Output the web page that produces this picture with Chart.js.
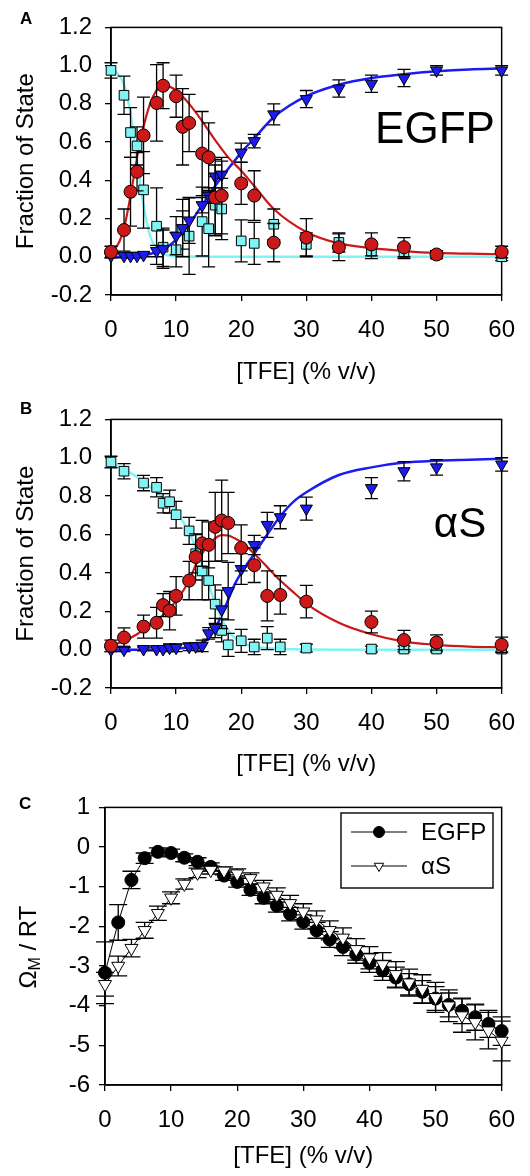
<!DOCTYPE html>
<html>
<head>
<meta charset="utf-8">
<script src="https://cdn.jsdelivr.net/npm/chart.js@4.4.1/dist/chart.umd.min.js"></script>
<style>
  html, body { margin: 0; padding: 0; background: #fff; }
  #figure { position: relative; width: 530px; height: 1176px; }
  .panel { position: absolute; left: 0; width: 530px; height: 392px; }
</style>
</head>
<body>
<div id="figure">
  <div class="panel" style="top:0"><canvas id="chart-a" width="530" height="392"></canvas></div>
  <div class="panel" style="top:392px"><canvas id="chart-b" width="530" height="392"></canvas></div>
  <div class="panel" style="top:784px"><canvas id="chart-c" width="530" height="392"></canvas></div>
</div>
<script>
// ---- Panel A: EGFP fraction of native / intermediate / unfolded state ----
const tfeA = [0, 2, 3, 4, 5, 7, 8, 10, 11, 12, 14, 15, 16, 17, 20, 22, 25, 30, 35, 40, 45, 50, 60];
const nativeA = [0.975, 0.845, 0.65, 0.58, 0.35, 0.16, 0.05, 0.037, 0.14, 0.108, 0.184, 0.147, 0.27, 0.25, 0.083, 0.07, 0.17, 0.065, 0.075, 0.03, 0.02, 0.01, 0.0];
const nativeErrA = [0.04, 0.1, 0.13, 0.1, 0.2, 0.2, 0.1, 0.09, 0.1, 0.2, 0.18, 0.2, 0.15, 0.16, 0.11, 0.11, 0.08, 0.06, 0.05, 0.04, 0.03, 0.02, 0.02];
const interA = [0.025, 0.14, 0.34, 0.445, 0.635, 0.805, 0.895, 0.84, 0.68, 0.70, 0.54, 0.52, 0.31, 0.32, 0.384, 0.32, 0.074, 0.10, 0.05, 0.065, 0.05, 0.012, 0.025];
const interErrA = [0.03, 0.11, 0.18, 0.1, 0.2, 0.2, 0.12, 0.11, 0.2, 0.15, 0.22, 0.18, 0.2, 0.2, 0.11, 0.13, 0.1, 0.1, 0.07, 0.06, 0.05, 0.02, 0.03];
const unfoldA = [0.005, 0.005, 0.005, 0.005, 0.01, 0.03, 0.04, 0.11, 0.15, 0.19, 0.27, 0.32, 0.42, 0.43, 0.545, 0.605, 0.745, 0.825, 0.88, 0.905, 0.935, 0.975, 0.975];
const unfoldErrA = [0.01, 0.01, 0.01, 0.01, 0.01, 0.03, 0.1, 0.1, 0.15, 0.12, 0.04, 0.04, 0.06, 0.07, 0.05, 0.035, 0.055, 0.045, 0.045, 0.045, 0.045, 0.025, 0.025];
// fitted three-state curves, panel A
const fitTfeA = [0, 1, 2, 3, 4, 5, 6, 7, 8, 9, 10, 12, 14, 16, 18, 20, 22, 25, 30, 35, 40, 45, 50, 55, 60];
const fitNativeA = [0.975, 0.96, 0.9, 0.75, 0.5, 0.27, 0.11, 0.04, 0.015, 0.006, 0.003, 0.001, 0, 0, 0, 0, 0, 0, 0, 0, 0, 0, 0, 0, 0];
const fitInterA = [0.03, 0.06, 0.15, 0.32, 0.52, 0.68, 0.8, 0.87, 0.895, 0.89, 0.87, 0.8, 0.71, 0.61, 0.52, 0.45, 0.37, 0.25, 0.13, 0.07, 0.045, 0.03, 0.02, 0.016, 0.013];
const fitUnfoldA = [0, 0, 0.002, 0.004, 0.006, 0.01, 0.015, 0.025, 0.04, 0.06, 0.09, 0.17, 0.27, 0.37, 0.46, 0.545, 0.62, 0.73, 0.84, 0.9, 0.935, 0.955, 0.97, 0.98, 0.985];

// ---- Panel B: alpha-synuclein ----
const tfeB = [0, 2, 5, 7, 8, 9, 10, 12, 13, 14, 15, 16, 17, 18, 20, 22, 24, 26, 30, 40, 45, 50, 60];
const nativeB = [0.978, 0.93, 0.868, 0.846, 0.763, 0.771, 0.703, 0.619, 0.5, 0.41, 0.36, 0.237, 0.10, 0.025, 0.046, 0.014, 0.06, 0.014, 0.008, 0.003, 0.003, 0.003, 0.003];
const nativeErrB = [0.03, 0.04, 0.04, 0.05, 0.05, 0.06, 0.07, 0.07, 0.1, 0.15, 0.1, 0.1, 0.06, 0.06, 0.06, 0.04, 0.06, 0.04, 0.02, 0.015, 0.015, 0.015, 0.015];
const interB = [0.02, 0.063, 0.12, 0.14, 0.232, 0.203, 0.28, 0.36, 0.483, 0.554, 0.546, 0.64, 0.673, 0.66, 0.53, 0.44, 0.28, 0.285, 0.25, 0.144, 0.05, 0.037, 0.025];
const interErrB = [0.03, 0.05, 0.06, 0.08, 0.06, 0.1, 0.1, 0.1, 0.12, 0.12, 0.12, 0.18, 0.21, 0.16, 0.12, 0.09, 0.13, 0.1, 0.085, 0.057, 0.05, 0.04, 0.04];
const unfoldB = [0, 0, 0.003, 0.003, 0.003, 0.01, 0.01, 0.015, 0.017, 0.02, 0.085, 0.113, 0.21, 0.305, 0.42, 0.545, 0.65, 0.69, 0.735, 0.842, 0.93, 0.95, 0.965];
const unfoldErrB = [0.01, 0.01, 0.01, 0.01, 0.01, 0.02, 0.02, 0.02, 0.02, 0.03, 0.03, 0.05, 0.1, 0.15, 0.08, 0.05, 0.065, 0.06, 0.06, 0.055, 0.05, 0.04, 0.035];
const fitTfeB = [0, 2, 4, 6, 8, 10, 12, 13, 14, 15, 16, 17, 18, 19, 20, 22, 24, 26, 28, 30, 35, 40, 45, 50, 55, 60];
const fitNativeB = [0.97, 0.94, 0.9, 0.85, 0.79, 0.72, 0.61, 0.53, 0.44, 0.34, 0.24, 0.16, 0.1, 0.06, 0.035, 0.015, 0.007, 0.004, 0.002, 0.001, 0, 0, 0, 0, 0, 0];
const fitInterB = [0.02, 0.045, 0.08, 0.13, 0.18, 0.254, 0.36, 0.44, 0.5, 0.55, 0.58, 0.597, 0.595, 0.58, 0.56, 0.5, 0.43, 0.36, 0.3, 0.24, 0.14, 0.08, 0.042, 0.025, 0.016, 0.012];
const fitUnfoldB = [0, 0, 0, 0.001, 0.002, 0.005, 0.012, 0.02, 0.035, 0.06, 0.11, 0.18, 0.26, 0.34, 0.4, 0.5, 0.6, 0.695, 0.77, 0.82, 0.91, 0.95, 0.975, 0.985, 0.99, 0.995];

// ---- Panel C: Omega_M / RT ----
const tfeC = [0, 2, 4, 6, 8, 10, 12, 14, 16, 18, 20, 22, 24, 26, 28, 30, 32, 34, 36, 38, 40, 42, 44, 46, 48, 50, 52, 54, 56, 58, 60];
const omegaEGFP = [-3.17, -1.9, -0.83, -0.28, -0.12, -0.15, -0.27, -0.37, -0.5, -0.72, -0.88, -1.08, -1.28, -1.48, -1.69, -1.89, -2.1, -2.33, -2.52, -2.71, -2.92, -3.11, -3.29, -3.46, -3.65, -3.82, -3.98, -4.13, -4.29, -4.46, -4.64];
const omegaErrEGFP = [0.78, 0.45, 0.22, 0.13, 0.1, 0.1, 0.1, 0.1, 0.1, 0.12, 0.13, 0.14, 0.15, 0.16, 0.17, 0.18, 0.2, 0.2, 0.22, 0.22, 0.24, 0.25, 0.26, 0.27, 0.28, 0.3, 0.3, 0.32, 0.33, 0.34, 0.36];
const omegaAS = [-3.46, -3.0, -2.55, -2.1, -1.67, -1.28, -0.93, -0.65, -0.58, -0.6, -0.67, -0.79, -1.0, -1.21, -1.42, -1.63, -1.83, -2.1, -2.29, -2.58, -2.79, -2.96, -3.21, -3.42, -3.58, -3.79, -4.0, -4.25, -4.42, -4.63, -4.89];
const omegaErrAS = [0.3, 0.25, 0.22, 0.2, 0.18, 0.15, 0.13, 0.12, 0.1, 0.1, 0.12, 0.14, 0.16, 0.18, 0.2, 0.2, 0.22, 0.24, 0.25, 0.27, 0.28, 0.3, 0.32, 0.34, 0.36, 0.38, 0.4, 0.42, 0.44, 0.46, 0.5];

const FONT = '"Liberation Sans", Arial, Helvetica, sans-serif';
Chart.defaults.font.family = FONT;
Chart.defaults.color = '#000';

const CYAN = '#80f4f4';
const RED = '#cc1818';
const BLUE = '#1c1cf0';

const points = (xs, ys) => xs.map((x, i) => ({ x, y: ys[i] }));
const oneDecimal = v => (Math.abs(v) < 1e-9 ? 0 : v).toFixed(1);

// vertical error bars with caps, drawn just before each dataset's markers
const errorBars = {
  id: 'errorBars',
  beforeDatasetDraw(chart, args, opts) {
    const ds = chart.data.datasets[args.index];
    if (!ds.errors) return;
    const { ctx, scales: { x, y } } = chart;
    const cap = opts.cap || 6;
    ctx.save();
    ctx.strokeStyle = '#000';
    ctx.lineWidth = 1.3;
    ds.data.forEach((p, i) => {
      const e = ds.errors[i];
      const px = x.getPixelForValue(p.x);
      const top = y.getPixelForValue(p.y + e);
      const bot = y.getPixelForValue(p.y - e);
      ctx.beginPath();
      ctx.moveTo(px, top); ctx.lineTo(px, bot);
      ctx.moveTo(px - cap, top); ctx.lineTo(px + cap, top);
      ctx.moveTo(px - cap, bot); ctx.lineTo(px + cap, bot);
      ctx.stroke();
    });
    ctx.restore();
  }
};

// closed box round the plot area
const frame = {
  id: 'frame',
  beforeDatasetsDraw(chart) {
    const { ctx, chartArea: a } = chart;
    ctx.save();
    ctx.strokeStyle = '#000';
    ctx.lineWidth = 1.5;
    ctx.strokeRect(a.left, a.top, a.right - a.left, a.bottom - a.top);
    ctx.restore();
  }
};

// free text: panel letters and protein names
const panelText = {
  id: 'panelText',
  afterDraw(chart, args, opts) {
    const ctx = chart.ctx;
    ctx.save();
    ctx.fillStyle = '#000';
    ctx.textBaseline = 'alphabetic';
    (opts.items || []).forEach(t => {
      ctx.font = t.font;
      ctx.textAlign = t.align || 'left';
      ctx.fillText(t.text, t.x, t.y);
    });
    ctx.restore();
  }
};

// y title with subscript M
const omegaTitle = {
  id: 'omegaTitle',
  afterDraw(chart, args, opts) {
    const ctx = chart.ctx;
    const big = '24px ' + FONT, small = '16px ' + FONT;
    ctx.save();
    ctx.translate(opts.x, opts.y);
    ctx.rotate(-Math.PI / 2);
    ctx.fillStyle = '#000';
    ctx.textBaseline = 'middle';
    ctx.font = big; const w1 = ctx.measureText('Ω').width;
    ctx.font = small; const w2 = ctx.measureText('M').width;
    ctx.font = big; const w3 = ctx.measureText(' / RT').width;
    let tx = -(w1 + w2 + w3) / 2;
    ctx.font = big; ctx.fillText('Ω', tx, 0); tx += w1;
    ctx.font = small; ctx.fillText('M', tx, 7); tx += w2;
    ctx.font = big; ctx.fillText(' / RT', tx, 0);
    ctx.restore();
  }
};

// boxed legend with line + marker samples
const boxLegend = {
  id: 'boxLegend',
  afterDraw(chart, args, opts) {
    const { ctx } = chart;
    const b = opts.box;
    ctx.save();
    ctx.fillStyle = '#fff';
    ctx.fillRect(b.x, b.y, b.w, b.h);
    ctx.strokeStyle = '#000';
    ctx.lineWidth = 1.4;
    ctx.strokeRect(b.x, b.y, b.w, b.h);
    chart.data.datasets.forEach((ds, i) => {
      const yy = b.y + opts.rowTop + i * opts.rowGap;
      ctx.strokeStyle = '#000';
      ctx.lineWidth = 1;
      ctx.beginPath();
      ctx.moveTo(b.x + 10, yy); ctx.lineTo(b.x + 66, yy);
      ctx.stroke();
      ctx.fillStyle = ds.pointBackgroundColor;
      Chart.helpers.drawPoint(ctx, {
        pointStyle: ds.pointStyle, radius: 5.5, rotation: ds.pointRotation || 0, borderWidth: 1
      }, b.x + 38, yy);
      ctx.fillStyle = '#000';
      ctx.font = '24px ' + FONT;
      ctx.textAlign = 'left';
      ctx.textBaseline = 'middle';
      ctx.fillText(ds.label, b.x + 80, yy + 1);
    });
    ctx.restore();
  }
};

function scaleSet(o) {
  return {
    x: {
      type: 'linear', min: 0, max: 60,
      ticks: { stepSize: 10, padding: 15, font: { size: 24 }, maxRotation: 0, autoSkip: false },
      grid: { drawOnChartArea: false, drawTicks: true, tickLength: 6, color: '#000', lineWidth: 1.3 },
      border: { display: true, color: '#000', width: 1.5 },
      title: { display: true, text: '[TFE] (% v/v)', font: { size: 24 }, padding: { top: 0, bottom: 5 } },
      afterFit: s => { s.height = o.xHeight; }
    },
    y: {
      type: 'linear', min: o.yMin, max: o.yMax,
      ticks: { stepSize: o.yStep, padding: o.yPad, font: { size: 24 }, autoSkip: false, callback: o.yFormat },
      grid: { drawOnChartArea: false, drawTicks: true, tickLength: 6, color: '#000', lineWidth: 1.3 },
      border: { display: true, color: '#000', width: 1.5 },
      title: { display: !!o.yTitle, text: o.yTitle, font: { size: 24 }, padding: { top: 12, bottom: 0 } },
      afterFit: s => { s.width = o.yWidth; }
    }
  };
}

function curve(xs, ys, color, width) {
  return {
    data: points(xs, ys), showLine: true, pointRadius: 0, borderColor: color, borderWidth: width,
    cubicInterpolationMode: 'monotone', order: 10, clip: false
  };
}

function markers(xs, ys, errs, style, fill, radius, order) {
  return {
    data: points(xs, ys), errors: errs, showLine: false, pointStyle: style, pointRadius: radius,
    pointRotation: style === 'triangle' ? 180 : 0, pointBackgroundColor: fill, backgroundColor: fill,
    pointBorderColor: '#000', pointBorderWidth: 1, order, clip: false
  };
}

function fractionChart(id, s, top, label) {
  return new Chart(document.getElementById(id), {
    type: 'scatter',
    data: {
      datasets: [
        curve(s.fitX, s.fitNative, CYAN, 2.5),
        curve(s.fitX, s.fitInter, RED, 2.2),
        curve(s.fitX, s.fitUnfold, BLUE, 2.5),
        markers(s.x, s.native, s.nativeErr, 'rect', CYAN, 6.8, 3),
        markers(s.x, s.unfold, s.unfoldErr, 'triangle', BLUE, 7, 2),
        markers(s.x, s.inter, s.interErr, 'circle', RED, 6.5, 1)
      ]
    },
    options: {
      responsive: false, animation: false, events: [],
      layout: { padding: { top, right: 28, left: 0, bottom: 0 } },
      scales: scaleSet({
        yMin: -0.2, yMax: 1.2, yStep: 0.2, yPad: 13, yFormat: oneDecimal,
        yTitle: 'Fraction of State', yWidth: 111, xHeight: 392 - top - 276
      }),
      plugins: {
        legend: { display: false }, tooltip: { enabled: false },
        errorBars: { cap: 6.5 },
        panelText: { items: label }
      }
    },
    plugins: [errorBars, frame, panelText]
  });
}

fractionChart('chart-a', {
  x: tfeA, native: nativeA, nativeErr: nativeErrA, inter: interA, interErr: interErrA,
  unfold: unfoldA, unfoldErr: unfoldErrA,
  fitX: fitTfeA, fitNative: fitNativeA, fitInter: fitInterA, fitUnfold: fitUnfoldA
}, 19, [
  { text: 'A', x: 20, y: 24, font: 'bold 17px ' + FONT },
  { text: 'EGFP', x: 435, y: 143, font: '44px ' + FONT, align: 'center' }
]);

fractionChart('chart-b', {
  x: tfeB, native: nativeB, nativeErr: nativeErrB, inter: interB, interErr: interErrB,
  unfold: unfoldB, unfoldErr: unfoldErrB,
  fitX: fitTfeB, fitNative: fitNativeB, fitInter: fitInterB, fitUnfold: fitUnfoldB
}, 20, [
  { text: 'B', x: 20, y: 22, font: 'bold 17px ' + FONT },
  { text: 'αS', x: 460, y: 145, font: '42px ' + FONT, align: 'center' }
]);

new Chart(document.getElementById('chart-c'), {
  type: 'scatter',
  data: {
    datasets: [
      {
        label: 'EGFP', data: points(tfeC, omegaEGFP), errors: omegaErrEGFP, showLine: true,
        borderColor: '#000', borderWidth: 1, pointStyle: 'circle', pointRadius: 6.5,
        pointBackgroundColor: '#000', pointBorderColor: '#000', pointBorderWidth: 1, order: 2, clip: false
      },
      {
        label: 'αS', data: points(tfeC, omegaAS), errors: omegaErrAS, showLine: true,
        borderColor: '#000', borderWidth: 1, pointStyle: 'triangle', pointRadius: 7.5, pointRotation: 180,
        pointBackgroundColor: '#fff', pointBorderColor: '#000', pointBorderWidth: 1, order: 1, clip: false
      }
    ]
  },
  options: {
    responsive: false, animation: false, events: [],
    layout: { padding: { top: 21, right: 28, left: 0, bottom: 0 } },
    scales: scaleSet({
      yMin: -6, yMax: 1, yStep: 1, yPad: 9, yFormat: v => String(v),
      yTitle: '', yWidth: 105, xHeight: 392 - 21 - 280
    }),
    plugins: {
      legend: { display: false }, tooltip: { enabled: false },
      errorBars: { cap: 9 },
      panelText: { items: [{ text: 'C', x: 19, y: 25, font: 'bold 17px ' + FONT }] },
      omegaTitle: { x: 29, y: 163 },
      boxLegend: { box: { x: 341, y: 29, w: 152, h: 75 }, rowTop: 19, rowGap: 34 }
    }
  },
  plugins: [errorBars, frame, panelText, omegaTitle, boxLegend]
});
</script>
</body>
</html>
